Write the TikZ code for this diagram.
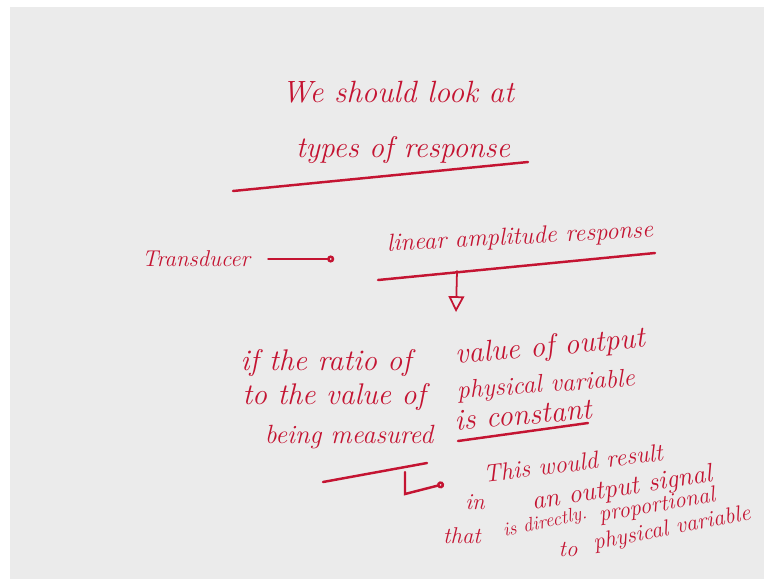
\documentclass[tikz,border=0pt]{standalone}
\usetikzlibrary{arrows.meta}
\definecolor{ink_red}{RGB}{196, 20, 50}
\definecolor{slide_gray}{RGB}{235, 235, 235}
\tikzstyle{hw}=[text=ink_red,font=\fontsize{17}{20}\selectfont\itshape,inner sep=0pt]
\tikzstyle{hwm}=[style=hw,font=\fontsize{15}{18}\selectfont\itshape]
\tikzstyle{hws}=[style=hw,font=\fontsize{13}{16}\selectfont\itshape]
\tikzstyle{pen}=[draw=ink_red,line width=1.4pt,line cap=round]
\begin{document}
\begin{tikzpicture}[x=0.02cm,y=-0.02cm]
    \fill [white] (0,0) rectangle (764,579);
    \fill [slide_gray] (10,7) rectangle (764,579);
    \useasboundingbox (0,0) rectangle (764,579);
    % heading
    \node [style=hw,font=\fontsize{17.5}{21}\selectfont\itshape] (head1) at (398,92) {We should look at};
    \node [style=hw] (head2) at (403,150) {types of response};
    \coordinate (ul1a) at (233,191);
    \coordinate (ul1b) at (528,162);
    \draw [style=pen] (ul1a) to (ul1b);
    % transducer
    \node [style=hw,font=\fontsize{13}{15}\selectfont\itshape] (trans) at (196,259) {Transducer};
    \node [style=hw,font=\fontsize{14}{17}\selectfont\itshape,rotate=3] (lin) at (520,238) {linear amplitude response};
    \draw [style=pen,shorten <=0.36cm,shorten >=1.05cm,-{Circle[open,length=4pt]}] (trans.east) to (trans.east -| lin.west);
    \coordinate (ul2a) at (378,280);
    \coordinate (ul2b) at (655,253);
    \draw [style=pen] (ul2a) to (ul2b);
    \coordinate (ul2m) at (457,271);
    \coordinate (tip2) at (456,312);
    \draw [style=pen,line width=1pt,-{Triangle[open,length=9pt,width=9pt]}] (ul2m) to (tip2);
    % condition
    \node [style=hw] (r1a) at (326,363) {if the ratio of};
    \node [style=hw,rotate=5] (r1b) at (550,348) {value of output};
    \node [style=hw] (r2a) at (334,397) {to the value of};
    \node [style=hw,font=\fontsize{14.5}{17}\selectfont\itshape,rotate=4] (r2b) at (546,386) {physical variable};
    \node [style=hwm] (r3a) at (349,437) {being measured};
    \node [style=hw,rotate=5] (r3b) at (523,415) {is constant};
    \coordinate (ul3a) at (458,441);
    \coordinate (ul3b) at (588,423);
    \draw [style=pen] (ul3a) to (ul3b);
    \coordinate (ul4a) at (323,482);
    \coordinate (ul4b) at (427,463);
    \draw [style=pen] (ul4a) to (ul4b);
    \coordinate (br) at (405,472);
    \coordinate (brc) at (405,494);
    \coordinate (brt) at (444,484);
    \draw [style=pen,-{Circle[open,length=4pt]}] (br) to (brc) to (brt);
    % result
    \node [style=hwm,font=\fontsize{14}{17}\selectfont\itshape,rotate=7] (s1) at (573,463) {This would result};
    \node [style=hws] (s2a) at (475,502) {in};
    \node [style=hwm,rotate=9] (s2b) at (622,489) {an output signal};
    \node [style=hws] (s3a) at (462,536) {that};
    \node [style=hw,font=\fontsize{11}{13}\selectfont\itshape,rotate=12] (s3b) at (545,523) {is directly.};
    \node [style=hws,rotate=10] (s3c) at (657,506) {proportional};
    \node [style=hws] (s4a) at (568,549) {to};
    \node [style=hws,rotate=11] (s4b) at (672,529) {physical variable};
\end{tikzpicture}
\end{document}
